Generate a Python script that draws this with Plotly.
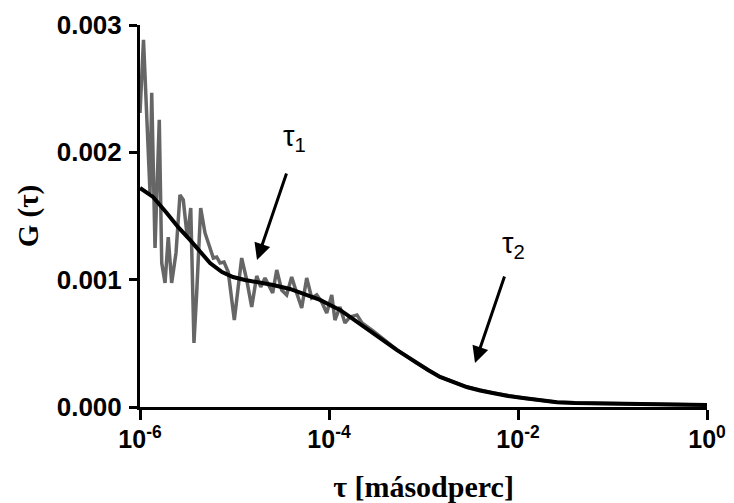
import numpy as np
import plotly.graph_objects as go

raw_log_tau = [-6.000, -5.963, -5.894, -5.876, -5.841, -5.796, -5.770, -5.735, -5.701, -5.665,
               -5.619, -5.577, -5.542, -5.499, -5.463, -5.429, -5.400, -5.358, -5.312, -5.259,
               -5.224, -5.188, -5.153, -5.111, -5.066, -5.002, -4.924, -4.871, -4.818, -4.765,
               -4.723, -4.677, -4.642, -4.596, -4.553, -4.501, -4.448, -4.395, -4.342, -4.289,
               -4.236, -4.183, -4.130, -4.077, -4.024, -3.971, -3.937, -3.884, -3.831, -3.778,
               -3.704, -3.651, -3.534, -3.407, -3.280, -3.072, -2.825, -2.543, -2.265, -1.947,
               -1.587, -1.238, -0.529, 0.000]
raw_G = [2.309, 2.883, 1.681, 2.467, 1.249, 2.255, 1.131, 0.974, 1.335, 0.974,
         1.210, 1.665, 1.626, 1.328, 1.563, 0.503, 0.896, 1.563, 1.367, 1.257,
         1.170, 1.178, 1.131, 1.139, 1.060, 0.683, 1.170, 0.998, 0.786, 1.029,
         0.943, 1.013, 0.958, 0.896, 1.076, 0.919, 0.880, 1.021, 0.896, 0.778,
         1.013, 0.856, 0.880, 0.825, 0.738, 0.880, 0.683, 0.786, 0.660, 0.707,
         0.723, 0.660, 0.597, 0.526, 0.448, 0.346, 0.236, 0.157, 0.110, 0.071,
         0.037, 0.029, 0.024, 0.016]

# Fitted curve (black)
fit_log_tau = [-6.000, -5.862, -5.717, -5.598, -5.471, -5.365, -5.259, -5.132, -5.016, -4.889,
               -4.765, -4.593, -4.413, -4.236, -4.095, -3.989, -3.884, -3.778, -3.661, -3.534,
               -3.407, -3.284, -3.185, -3.072, -2.952, -2.825, -2.688, -2.543, -2.402, -2.265,
               -2.106, -1.947, -1.767, -1.587, -1.397, -1.238, -0.889, -0.529, 0.000]
fit_G = [1.720, 1.650, 1.524, 1.414, 1.312, 1.218, 1.131, 1.060, 1.021, 0.998,
         0.982, 0.958, 0.927, 0.880, 0.841, 0.801, 0.762, 0.707, 0.644, 0.581,
         0.511, 0.448, 0.401, 0.346, 0.291, 0.236, 0.196, 0.157, 0.130, 0.110,
         0.086, 0.071, 0.055, 0.037, 0.031, 0.029, 0.026, 0.024, 0.016]

x_tick_vals = [1e-6, 1e-4, 1e-2, 1e0]
x_tick_text = ["10<sup>-6</sup>", "10<sup>-4</sup>", "10<sup>-2</sup>", "10<sup>0</sup>"]
y_tick_vals = [0.0, 0.001, 0.002, 0.003]
y_tick_text = ["0.000", "0.001", "0.002", "0.003"]

raw_tau = 10 ** np.array(raw_log_tau)
fit_tau = 10 ** np.array(fit_log_tau)
raw_y = np.array(raw_G) * 1e-3
fit_y = np.array(fit_G) * 1e-3

fig = go.Figure()
fig.add_trace(go.Scatter(x=raw_tau, y=raw_y, mode="lines",
                         line=dict(color="#666666", width=3.5), showlegend=False))
fig.add_trace(go.Scatter(x=fit_tau, y=fit_y, mode="lines",
                         line=dict(color="#000000", width=4), showlegend=False))

# page body has an 8px margin, so the figure is drawn 8px in from the window corner
OFF = 8
W, H = 734 - OFF, 503 - OFF
L, R, T, B = 140 - OFF, 27, 25 - OFF, 96
pw, ph = W - L - R, H - T - B

def px(xp):
    return (xp - OFF - L) / pw

def py(yp):
    return (H - B - (yp - OFF)) / ph

fig.update_layout(
    width=W, height=H,
    margin=dict(l=L, r=R, t=T, b=B, autoexpand=False),
    paper_bgcolor="white", plot_bgcolor="white",
    xaxis=dict(type="log", range=[-6, 0], showgrid=False, zeroline=False, automargin=False,
               showline=True, linecolor="black", linewidth=3,
               ticks="outside", ticklen=10, tickwidth=3, tickcolor="black",
               ticklabelstandoff=-2,
               tickvals=x_tick_vals, ticktext=x_tick_text,
               tickfont=dict(family="Liberation Sans, Arial, sans-serif", size=25, color="black", weight="bold"),
               title=dict(text="τ [másodperc]", standoff=27,
                          font=dict(family="Liberation Serif, Times New Roman, serif", size=30,
                                    color="black", weight="bold"))),
    yaxis=dict(range=[0, 0.003], showgrid=False, zeroline=False, automargin=False,
               showline=True, linecolor="black", linewidth=3,
               ticks="outside", ticklen=8, tickwidth=3, tickcolor="black",
               ticklabelstandoff=2,
               tickvals=y_tick_vals, ticktext=y_tick_text,
               tickfont=dict(family="Liberation Sans, Arial, sans-serif", size=26, color="black", weight="bold"),
               title=dict(text="G (τ)", standoff=10,
                          font=dict(family="Liberation Serif, Times New Roman, serif", size=29,
                                    color="black", weight="bold"))),
    annotations=[
        dict(xref="paper", yref="paper", x=px(257), y=py(260), ax=287 - 257, ay=172 - 260,
             showarrow=True, arrowhead=2, arrowsize=1.1, arrowwidth=3, arrowcolor="black", text=""),
        dict(xref="paper", yref="paper", x=px(475), y=py(363), ax=505 - 475, ay=275 - 363,
             showarrow=True, arrowhead=2, arrowsize=1.1, arrowwidth=3, arrowcolor="black", text=""),
        dict(xref="paper", yref="paper", x=px(294), y=py(138), showarrow=False,
             text="τ<sub>1</sub>", xanchor="center", yanchor="middle",
             font=dict(family="Liberation Sans, Arial, sans-serif", size=29, color="black")),
        dict(xref="paper", yref="paper", x=px(513), y=py(245), showarrow=False,
             text="τ<sub>2</sub>", xanchor="center", yanchor="middle",
             font=dict(family="Liberation Sans, Arial, sans-serif", size=29, color="black")),
    ],
)

fig.write_html("out.html")
